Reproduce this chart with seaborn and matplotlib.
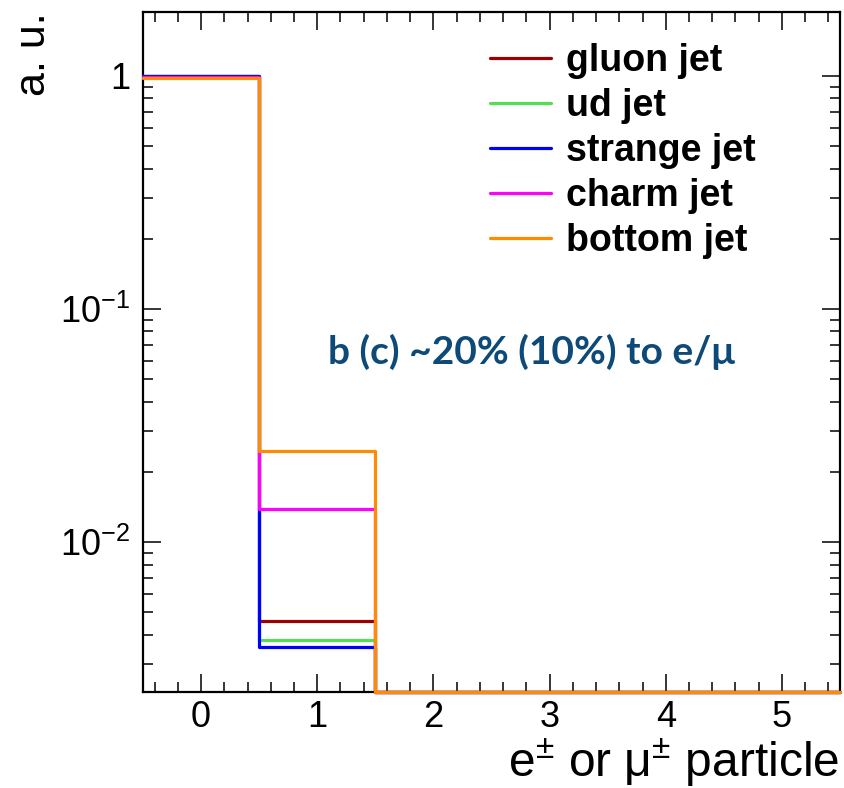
import numpy as np
import pandas as pd
import matplotlib
matplotlib.use("Agg")
import matplotlib.pyplot as plt
import matplotlib.ticker as mticker
import seaborn as sns

# ---- data ----
bin_centers = [0, 1, 2, 3, 4, 5]
flavours = ["gluon jet", "ud jet", "strange jet", "charm jet", "bottom jet"]
gluon_jet = [0.9954, 0.00458, 0, 0, 0, 0]
ud_jet = [0.9962, 0.00381, 0, 0, 0, 0]
strange_jet = [0.9965, 0.00354, 0, 0, 0, 0]
charm_jet = [0.9862, 0.0138, 0, 0, 0, 0]
bottom_jet = [0.9754, 0.0246, 0, 0, 0, 0]
colors = ["#990000", "#55dd55", "#0000ff", "#ff00ff", "#ff8c00"]
x_label = "e$^{\\pm}$ or \u03bc$^{\\pm}$ particle"
y_label = "a. u."
note = "b (c) ~20% (10%) to e/\u03bc"
ytick_vals = [1e-2, 1e-1, 1]
ytick_labels = ["$10^{-2}$", "$10^{-1}$", "1"]

series = [gluon_jet, ud_jet, strange_jet, charm_jet, bottom_jet]

sns.set_theme(style="ticks")
plt.rcParams["font.family"] = ["Liberation Sans", "DejaVu Sans"]
plt.rcParams["mathtext.fontset"] = "custom"
plt.rcParams["mathtext.rm"] = "Liberation Sans"
plt.rcParams["mathtext.it"] = "Liberation Sans"
plt.rcParams["mathtext.bf"] = "Liberation Sans:bold"
for k in ["text.color", "axes.labelcolor", "xtick.color", "ytick.color", "axes.edgecolor"]:
    plt.rcParams[k] = "black"

YMIN, YMAX = 0.00227, 1.88
XMIN, XMAX = -0.5, 5.5

# build step data (bin edges, steps-post)
edges = np.arange(XMIN, XMAX + 1, 1.0)
rows = []
for name, vals in zip(flavours, series):
    v = np.maximum(np.array(vals, dtype=float), YMIN)  # empty bins drawn at axis floor (ROOT style)
    v = np.append(v, v[-1])
    for xe, ye in zip(edges, v):
        rows.append({"x": xe, "y": ye, "flavour": name})
df = pd.DataFrame(rows)

fig = plt.figure(figsize=(8.44, 7.88), dpi=100)
ax = fig.add_axes([143 / 844, 1 - 692 / 788, (840 - 143) / 844, (692 - 12) / 788])

sns.lineplot(data=df, x="x", y="y", hue="flavour", hue_order=flavours,
             palette=colors, drawstyle="steps-post", sort=False,
             linewidth=2.3, ax=ax, legend=False, clip_on=False, zorder=5)

ax.set_yscale("log")
ax.set_xlim(XMIN, XMAX)
ax.set_ylim(YMIN, YMAX)

# ticks ROOT-like
ax.xaxis.set_major_locator(mticker.FixedLocator(bin_centers))
ax.xaxis.set_minor_locator(mticker.MultipleLocator(0.2))
ax.yaxis.set_major_locator(mticker.FixedLocator(ytick_vals))
ax.yaxis.set_major_formatter(mticker.FixedFormatter(ytick_labels))
ax.yaxis.set_minor_locator(mticker.LogLocator(base=10, subs=np.arange(2, 10)))
ax.yaxis.set_minor_formatter(mticker.NullFormatter())
ax.tick_params(which="both", direction="in", top=True, right=True, color="black", width=1.1)
ax.tick_params(which="major", length=13, labelsize=26, pad=6, labelcolor="black")
ax.tick_params(which="minor", length=7)
ax.tick_params(axis="y", which="major", pad=9)
for s in ax.spines.values():
    s.set_linewidth(1.6)
    s.set_color("black")
    s.set_zorder(3)

ax.set_xlabel("")
ax.set_ylabel("")
fig.text(839 / 844, 1 - 777 / 788, x_label, ha="right", va="baseline", fontsize=34.5, color="black")
fig.text(34 / 844, 1 - 12 / 788, y_label, ha="center", va="top", rotation=90, fontsize=31, color="black")

# legend
handles = [plt.Line2D([], [], color=c, lw=2.3) for c in colors]
leg = ax.legend(handles, flavours, loc="upper left",
                bbox_to_anchor=(490 / 844, 1 - 43 / 788), bbox_transform=fig.transFigure,
                frameon=False, prop={"family": "Liberation Sans", "weight": "bold", "size": 27},
                handlelength=1.62, handletextpad=0.4, labelspacing=0.24, borderpad=0, borderaxespad=0)
for t in leg.get_texts():
    t.set_color("black")

ax.text(328 / 844, 1 - 352 / 788, note, transform=fig.transFigure, ha="left", va="center",
        fontsize=28, fontweight="bold", color="#0d4a78", family=["Lato", "DejaVu Sans"])

fig.savefig("out.png", dpi=100)
